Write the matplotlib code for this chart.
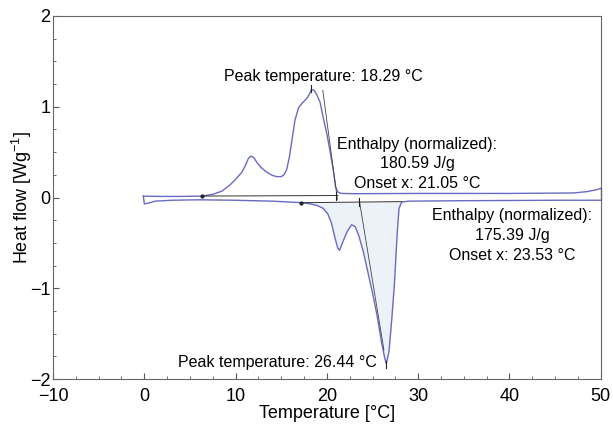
import numpy as np
import matplotlib
matplotlib.use("Agg")
import matplotlib.pyplot as plt
from matplotlib.ticker import MultipleLocator

plt.rcParams["font.family"] = ["Liberation Sans", "DejaVu Sans"]
plt.rcParams["mathtext.fontset"] = "custom"
plt.rcParams["mathtext.rm"] = "Liberation Sans"
plt.rcParams["mathtext.it"] = "Liberation Sans:italic"

# cooling run (exotherm, plotted upward)
t_cool = [-0.1, 2, 4, 6.3, 7.5, 8.5, 9.4, 10.0, 10.7, 11.1, 11.4, 11.65, 12.0, 12.3,
          12.8, 13.4, 14.0, 14.5, 15.0, 15.3, 15.6, 15.9, 16.2, 16.5, 16.9, 17.3,
          17.8, 18.1, 18.3, 18.6, 18.9, 19.25, 19.6, 20.0, 20.4, 20.7, 20.95, 21.2,
          21.6, 23, 30, 40, 47, 48.5, 49.5, 50.0]
hf_cool = [0.015, 0.012, 0.012, 0.016, 0.035, 0.07, 0.14, 0.2, 0.28, 0.36, 0.43, 0.456, 0.44, 0.39,
           0.33, 0.28, 0.245, 0.23, 0.23, 0.25, 0.31, 0.45, 0.65, 0.85, 0.99, 1.04,
           1.09, 1.14, 1.19, 1.18, 1.13, 1.05, 0.88, 0.70, 0.48, 0.30, 0.12, 0.06,
           0.045, 0.042, 0.045, 0.045, 0.05, 0.065, 0.085, 0.1]

# heating run (endotherm, plotted downward)
t_heat = [-0.1, 0.0, 0.5, 1.2, 3, 6, 10, 14, 16, 17.2, 18.2, 19.0, 19.6, 20.1, 20.5,
          20.9, 21.2, 21.4, 21.7, 22.2, 22.7, 23.1, 23.5, 24.0, 24.4, 25.0, 25.5,
          26.0, 26.3, 26.5, 26.8, 27.1, 27.4, 27.7, 27.9, 28.2, 29, 35, 45, 50]
hf_heat = [0.015, -0.07, -0.06, -0.04, -0.03, -0.025, -0.03, -0.04, -0.05, -0.057, -0.07, -0.09,
           -0.12, -0.18, -0.28, -0.45, -0.56, -0.58, -0.50, -0.38, -0.30, -0.32, -0.42,
           -0.60, -0.78, -1.05, -1.30, -1.60, -1.75, -1.83, -1.70, -1.35, -0.95, -0.40,
           -0.12, -0.05, -0.04, -0.035, -0.03, -0.03]

# integration baselines and onset tangents
base_cool_t = [6.3, 21.2]
base_cool_hf = [0.016, 0.022]
base_heat_t = [17.2, 28.2]
base_heat_hf = [-0.057, -0.045]
tan_cool_t = [19.55, 21.15]
tan_cool_hf = [1.18, -0.02]
tan_heat_t = [23.55, 26.25]
tan_heat_hf = [-0.03, -1.68]

peak_cool = (18.29, 1.19)
peak_heat = (26.44, -1.83)
onset_cool = (21.05, 0.02)
onset_heat = (23.53, -0.04)

fig = plt.figure(figsize=(6.13, 4.28), dpi=100)
ax = fig.add_axes([0.0865, 0.114, 0.8935, 0.849])

curve_col = "#6a6ac4"

# shaded melting area
t_h = np.array(t_heat)
h_h = np.array(hf_heat)
m = (t_h >= base_heat_t[0]) & (t_h <= base_heat_t[1])
ax.fill_between(t_h[m], h_h[m], np.interp(t_h[m], base_heat_t, base_heat_hf),
                color="#edf1f8", lw=0)

ax.plot(t_cool, hf_cool, color=curve_col, lw=1.0)
ax.plot(t_heat, hf_heat, color=curve_col, lw=1.0)
ax.plot([50, 50], [hf_cool[-1], hf_heat[-1]], color=curve_col, lw=1.0, clip_on=False)

ax.plot(base_cool_t, base_cool_hf, color="#333333", lw=0.7)
ax.plot(base_heat_t, base_heat_hf, color="#333333", lw=0.7)
ax.plot(tan_cool_t, tan_cool_hf, color="#444444", lw=0.6)
ax.plot(tan_heat_t, tan_heat_hf, color="#444444", lw=0.6)

# small markers
ax.plot([peak_cool[0]] * 2, [peak_cool[1] - 0.03, peak_cool[1] + 0.05], color="#222222", lw=0.8)
ax.plot([peak_heat[0]] * 2, [peak_heat[1] - 0.05, peak_heat[1] + 0.03], color="#222222", lw=0.8)
ax.plot([onset_cool[0]] * 2, [onset_cool[1] - 0.05, onset_cool[1] + 0.04], color="#222222", lw=0.8)
ax.plot([onset_heat[0]] * 2, [onset_heat[1] - 0.05, onset_heat[1] + 0.04], color="#222222", lw=0.8)
ax.plot([base_cool_t[0], base_heat_t[0]], [base_cool_hf[0], base_heat_hf[0]], ls="none",
        marker="o", ms=2, color="#222222")

fs_note = 11.5
ax.text(19.6, 1.33, "Peak temperature: 18.29 \u00b0C", ha="center", va="center", fontsize=fs_note)
ax.text(14.6, -1.82, "Peak temperature: 26.44 \u00b0C", ha="center", va="center", fontsize=fs_note)
ax.text(29.9, 0.37, "Enthalpy (normalized):\n180.59 J/g\nOnset x: 21.05 \u00b0C",
        ha="center", va="center", fontsize=fs_note, linespacing=1.4)
ax.text(40.3, -0.42, "Enthalpy (normalized):\n175.39 J/g\nOnset x: 23.53 \u00b0C",
        ha="center", va="center", fontsize=fs_note, linespacing=1.4)

ax.set_xlim(-10, 50)
ax.set_ylim(-2, 2)
ax.xaxis.set_major_locator(MultipleLocator(10))
ax.xaxis.set_minor_locator(MultipleLocator(2.5))
ax.yaxis.set_major_locator(MultipleLocator(1))
ax.yaxis.set_minor_locator(MultipleLocator(0.25))
ax.tick_params(which="both", direction="in", colors="#555555", labelcolor="black",
               labelsize=13, pad=2)
ax.tick_params(axis="x", which="major", pad=6.5)
ax.tick_params(which="major", length=4, width=0.8)
ax.tick_params(which="minor", length=2.5, width=0.6)
for s in ax.spines.values():
    s.set_color("#666666")
    s.set_linewidth(0.8)

ax.set_xlabel("Temperature [\u00b0C]", fontsize=13, labelpad=0)
ax.set_ylabel("Heat flow [Wg$^{-1}$]", fontsize=13, labelpad=-3)

fig.savefig("out.png", dpi=100)
